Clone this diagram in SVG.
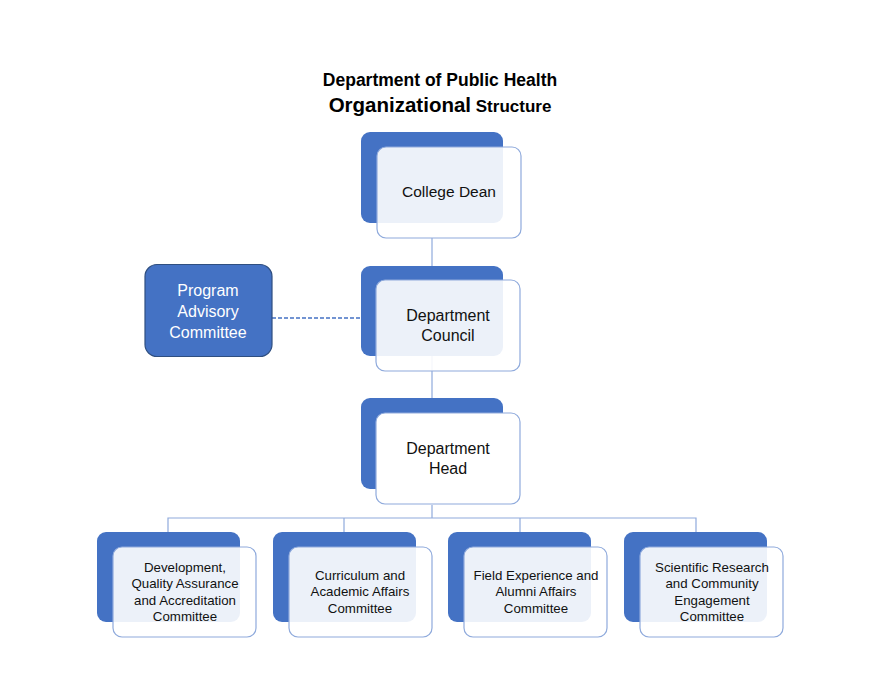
<svg xmlns="http://www.w3.org/2000/svg" width="881" height="700" viewBox="0 0 881 700">
<style>
.bg{fill:#4472C4}
.fg{fill:#FFFFFF;fill-opacity:0.9;stroke:#8FAADC;stroke-width:1.2}
.fgs{fill:#FFFFFF;stroke:#8FAADC;stroke-width:1.2}
.ln{stroke:#8FAADC;stroke-width:1.2;fill:none}
.t{font-family:"Liberation Sans",Arial,sans-serif;fill:#111;text-anchor:middle}
.m{font-size:16px}
.s{font-size:13.3px}
.ti{font-family:"Liberation Sans",Arial,sans-serif;font-weight:bold;fill:#000;text-anchor:middle}
</style>
<rect width="881" height="700" fill="#fff"/>
<g id="title">
<text class="ti" x="440" y="86" font-size="17.5">Department of Public Health</text>
<text class="ti" x="440" y="112"><tspan font-size="20.5">Organizational</tspan><tspan font-size="17"> Structure</tspan></text>
</g>
<g id="connectors">
<line class="ln" x1="432" y1="238" x2="432" y2="280"/>
<line class="ln" x1="432" y1="356" x2="432" y2="413"/>
<line class="ln" x1="432" y1="505" x2="432" y2="518"/>
<polyline class="ln" points="168,532 168,518 696,518 696,532"/>
<line class="ln" x1="344" y1="518" x2="344" y2="532"/>
<line class="ln" x1="520" y1="518" x2="520" y2="532"/>
<line x1="272" y1="318" x2="361" y2="318" stroke="#4472C4" stroke-width="1.3" stroke-dasharray="4,2"/>
</g>
<g id="college-dean">
<rect class="bg" x="361" y="132" width="142" height="91" rx="9"/>
<rect class="fg" x="377" y="147" width="144" height="91" rx="9"/>
<text class="t" font-size="15.5" x="449" y="197">College Dean</text>
</g>
<g id="program-advisory">
<rect x="145" y="264.5" width="127" height="92" rx="12" fill="#4472C4" stroke="#2F4F80" stroke-width="1.2"/>
<text class="t m" x="208" y="296" style="fill:#fff"><tspan x="208">Program</tspan><tspan x="208" dy="21">Advisory</tspan><tspan x="208" dy="21">Committee</tspan></text>
</g>
<g id="department-council">
<rect class="bg" x="361" y="266" width="142" height="90" rx="9"/>
<rect class="fg" x="376" y="280" width="144" height="91" rx="9"/>
<text class="t m" x="448" y="321"><tspan x="448">Department</tspan><tspan x="448" dy="19.5">Council</tspan></text>
</g>
<g id="department-head">
<rect class="bg" x="361" y="398" width="142" height="91" rx="9"/>
<rect class="fgs" x="376" y="413" width="144" height="91" rx="9"/>
<text class="t m" x="448" y="454"><tspan x="448">Department</tspan><tspan x="448" dy="19.5">Head</tspan></text>
</g>
<g id="dev-qa">
<rect class="bg" x="97" y="532" width="143" height="90" rx="9"/>
<rect class="fg" x="113" y="547" width="143" height="90" rx="9"/>
<text class="t s" x="185" y="572"><tspan x="185">Development,</tspan><tspan x="185" dy="16.3">Quality Assurance</tspan><tspan x="185" dy="16.3">and Accreditation</tspan><tspan x="185" dy="16.3">Committee</tspan></text>
</g>
<g id="curriculum">
<rect class="bg" x="273" y="532" width="143" height="90" rx="9"/>
<rect class="fg" x="289" y="547" width="143" height="90" rx="9"/>
<text class="t s" x="360" y="580"><tspan x="360">Curriculum and</tspan><tspan x="360" dy="16.3">Academic Affairs</tspan><tspan x="360" dy="16.3">Committee</tspan></text>
</g>
<g id="field-experience">
<rect class="bg" x="448" y="532" width="143" height="90" rx="9"/>
<rect class="fg" x="464" y="547" width="143" height="90" rx="9"/>
<text class="t s" x="536" y="580"><tspan x="536">Field Experience and</tspan><tspan x="536" dy="16.3">Alumni Affairs</tspan><tspan x="536" dy="16.3">Committee</tspan></text>
</g>
<g id="scientific-research">
<rect class="bg" x="624" y="532" width="143" height="90" rx="9"/>
<rect class="fg" x="640" y="547" width="143" height="90" rx="9"/>
<text class="t s" x="712" y="572"><tspan x="712">Scientific Research</tspan><tspan x="712" dy="16.3">and Community</tspan><tspan x="712" dy="16.3">Engagement</tspan><tspan x="712" dy="16.3">Committee</tspan></text>
</g>
</svg>
